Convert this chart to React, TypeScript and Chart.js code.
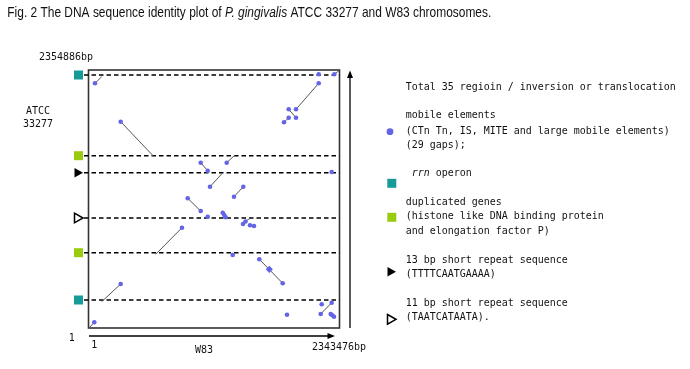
import React, { useEffect, useRef } from "react";
import { Chart, registerables } from "chart.js";
Chart.register(...registerables);

const X_MAX = 2343476;
const Y_MAX = 2354886;

// mobile element gaps [W83 position, ATCC 33277 position]
const mobileDots: number[][] = [
  [60700, 2233500], [300600, 1883000], [2149300, 2315600], [2294900, 2315600],
  [2149300, 2233500], [1869200, 1996200], [1937300, 1996200], [1869200, 1919500],
  [1937300, 1919500], [1825300, 1877500], [1047600, 1508800], [1112900, 1435800],
  [1290300, 1508800], [2270700, 1423900], [1134400, 1289700], [1445300, 1289700],
  [1358500, 1198400], [926200, 1183800], [1047600, 1067900], [1112900, 1015900],
  [1253000, 1052400], [1267000, 1031400], [1281000, 1010400],
  [1442500, 949300], [1465800, 972100], [1507900, 937400], [1545200, 931000],
  [873000, 915500], [1346300, 666300], [1594700, 627100], [1813200, 408000],
  [300600, 401600], [54200, 52000], [2177300, 216300], [2270700, 230900],
  [2168000, 127800], [2261300, 127800], [2276300, 115900], [2292100, 103100],
  [1853300, 121400],
];
const largeDots: number[][] = [[1688100, 535800]];

// identity segments [x1, y1, x2, y2]
const segments: number[][] = [
  [60700, 2233500, 123200, 2293700],
  [300600, 1883000, 605000, 1569900],
  [2294900, 2315600, 2338800, 2348500],
  [2149300, 2233500, 1937300, 1996200],
  [1869200, 1996200, 1937300, 1919500],
  [1825300, 1877500, 1869200, 1919500],
  [1047600, 1508800, 1112900, 1435800],
  [1290300, 1508800, 1367800, 1579100],
  [1134400, 1289700, 1249200, 1412000],
  [1445300, 1289700, 1358500, 1198400],
  [926200, 1183800, 1047600, 1067900],
  [873000, 915500, 627400, 672700],
  [1594700, 627100, 1813200, 408000],
  [300600, 401600, 123200, 240100],
  [54200, 52000, 7500, 2700],
  [2168000, 127800, 2270700, 230900],
  [1461200, 970300, 1507900, 1001300],
];

const rrnPositions = [2309200, 255600];
const dupPositions = [1572700, 687300];
const repeat13Positions = [1417500];
const repeat11Positions = [1004000];

const TEAL = "#179b98";
const GREEN = "#99cc11";
const BLUE = "#6464e6";
const DASH_START = -42000;
const MARK_OFFSET = 10; // px left of the plot frame

const legendLines: [string, number][] = [
  ["Total 35 regioin / inversion or translocation", 86.7],
  ["mobile elements", 115],
  ["(CTn Tn, IS, MITE and large mobile elements)", 130.7],
  ["(29 gaps);", 145],
  ["duplicated genes", 201.7],
  ["(histone like DNA binding protein", 216],
  ["and elongation factor P)", 230.7],
  ["13 bp short repeat sequence", 260],
  ["(TTTTCAATGAAAA)", 274],
  ["11 bp short repeat sequence", 302.7],
  ["(TAATCATAATA).", 316.7],
];

function mono(ctx: CanvasRenderingContext2D, text: string, x: number, y: number, italic = false) {
  ctx.save();
  ctx.font = (italic ? "italic " : "") + '11px "DejaVu Sans Mono"';
  const w = ctx.measureText("M").width;
  ctx.translate(x, y);
  ctx.scale(6 / w, 1);
  ctx.textBaseline = "middle";
  ctx.textAlign = "left";
  ctx.fillStyle = "#111";
  ctx.fillText(text, 0, 0);
  ctx.restore();
}

function triangle(ctx: CanvasRenderingContext2D, cx: number, cy: number, filled: boolean) {
  ctx.save();
  ctx.beginPath();
  ctx.moveTo(cx - 4, cy - 4.8);
  ctx.lineTo(cx + 4.5, cy);
  ctx.lineTo(cx - 4, cy + 4.8);
  ctx.closePath();
  if (filled) {
    ctx.fillStyle = "#000";
    ctx.fill();
  } else {
    ctx.fillStyle = "#fff";
    ctx.fill();
    ctx.lineWidth = 1.5;
    ctx.strokeStyle = "#000";
    ctx.stroke();
  }
  ctx.restore();
}

function square(ctx: CanvasRenderingContext2D, cx: number, cy: number, color: string) {
  ctx.save();
  ctx.fillStyle = color;
  ctx.fillRect(cx - 4.5, cy - 4.5, 9, 9);
  ctx.restore();
}

const decor = {
  id: "decor",
  beforeDatasetsDraw(chart: any) {
    const ctx: CanvasRenderingContext2D = chart.ctx;
    const a = chart.chartArea;
    ctx.save();
    ctx.strokeStyle = "#333";
    ctx.lineWidth = 1.6;
    ctx.strokeRect(a.left, a.top, a.right - a.left, a.bottom - a.top);
    ctx.restore();
  },
  afterDraw(chart: any) {
    const ctx: CanvasRenderingContext2D = chart.ctx;
    const a = chart.chartArea;
    const ys = chart.scales.y;
    const mx = a.left - MARK_OFFSET;

    // side markers on the ATCC axis
    rrnPositions.forEach((v) => square(ctx, mx, ys.getPixelForValue(v), TEAL));
    dupPositions.forEach((v) => square(ctx, mx, ys.getPixelForValue(v), GREEN));
    repeat13Positions.forEach((v) => triangle(ctx, mx, ys.getPixelForValue(v), true));
    repeat11Positions.forEach((v) => triangle(ctx, mx, ys.getPixelForValue(v), false));

    ctx.save();
    // title
    const parts: [string, boolean][] = [
      ["Fig. 2 The DNA sequence identity plot of ", false],
      ["P. gingivalis", true],
      [" ATCC 33277 and W83 chromosomes.", false],
    ];
    let total = 0;
    const widths: number[] = [];
    for (const [t, it] of parts) {
      ctx.font = (it ? "italic " : "") + '15px "Liberation Sans"';
      const w = ctx.measureText(t).width;
      widths.push(w);
      total += w;
    }
    const s = 484 / total;
    ctx.translate(7.3, 17);
    ctx.scale(s, 1);
    ctx.fillStyle = "#111";
    ctx.textBaseline = "alphabetic";
    let cx = 0;
    parts.forEach(([t, it], i) => {
      ctx.font = (it ? "italic " : "") + '15px "Liberation Sans"';
      ctx.fillText(t, cx, 0);
      cx += widths[i];
    });
    ctx.restore();

    // axis arrows
    ctx.save();
    ctx.strokeStyle = "#000";
    ctx.fillStyle = "#000";
    ctx.lineWidth = 1.3;
    ctx.beginPath();
    ctx.moveTo(a.left + 0.5, 336);
    ctx.lineTo(329, 336);
    ctx.stroke();
    ctx.beginPath();
    ctx.moveTo(335, 336);
    ctx.lineTo(327.5, 333);
    ctx.lineTo(327.5, 339);
    ctx.closePath();
    ctx.fill();
    ctx.beginPath();
    ctx.moveTo(350, a.bottom);
    ctx.lineTo(350, 76);
    ctx.stroke();
    ctx.beginPath();
    ctx.moveTo(350, 70.5);
    ctx.lineTo(347, 78);
    ctx.lineTo(353, 78);
    ctx.closePath();
    ctx.fill();
    ctx.restore();

    // axis texts
    mono(ctx, "2354886bp", 39, 56.7);
    mono(ctx, "ATCC", 26, 111);
    mono(ctx, "33277", 23, 124);
    mono(ctx, "1", 68.7, 337.7);
    mono(ctx, "1", 91.3, 345);
    mono(ctx, "W83", 195, 350);
    mono(ctx, "2343476bp", 312, 346.7);

    // legend
    for (const [t, y] of legendLines) mono(ctx, t, 405.7, y);
    mono(ctx, "rrn", 411.7, 173.3, true);
    mono(ctx, " operon", 429.7, 173.3);

    ctx.save();
    ctx.fillStyle = BLUE;
    ctx.beginPath();
    ctx.arc(390, 131.7, 3.4, 0, Math.PI * 2);
    ctx.fill();
    ctx.restore();
    square(ctx, 391.8, 183.3, TEAL);
    square(ctx, 391.8, 217.3, GREEN);
    triangle(ctx, 391.5, 271.7, true);
    triangle(ctx, 391.5, 319.3, false);
  },
};

export default function App() {
  const ref = useRef<HTMLCanvasElement | null>(null);
  useEffect(() => {
    if (!ref.current) return;
    const allMarks = [...rrnPositions, ...dupPositions, ...repeat13Positions, ...repeat11Positions];
    const datasets: any[] = [];
    datasets.push({
      label: "mobile",
      data: mobileDots.map(([x, y]) => ({ x, y })),
      pointRadius: 2.3,
      pointBackgroundColor: BLUE,
      pointBorderWidth: 0,
      showLine: false,
      order: 0,
      clip: false,
    });
    datasets.push({
      label: "mobile-large",
      data: largeDots.map(([x, y]) => ({ x, y })),
      pointRadius: 3.6,
      pointStyle: "rectRot",
      pointBackgroundColor: BLUE,
      pointBorderWidth: 0,
      showLine: false,
      order: 0,
      clip: false,
    });
    segments.forEach((sg, i) => {
      datasets.push({
        label: "seg" + i,
        data: [{ x: sg[0], y: sg[1] }, { x: sg[2], y: sg[3] }],
        showLine: true,
        borderColor: "#555",
        borderWidth: 1,
        pointRadius: 0,
        order: 2,
        clip: false,
      });
    });
    allMarks.forEach((y, i) => {
      datasets.push({
        label: "dash" + i,
        data: [{ x: DASH_START, y }, { x: X_MAX, y }],
        showLine: true,
        borderColor: "#000",
        borderWidth: 1.5,
        borderDash: [4.5, 3],
        pointRadius: 0,
        order: 3,
        clip: false,
      });
    });

    const chart = new Chart(ref.current, {
      type: "scatter",
      data: { datasets },
      options: {
        animation: false,
        responsive: false,
        maintainAspectRatio: false,
        devicePixelRatio: 1,
        events: [],
        layout: { padding: { left: 88.5, right: 350.5, top: 70, bottom: 41 } },
        plugins: { legend: { display: false }, tooltip: { enabled: false }, title: { display: false } },
        scales: {
          x: { type: "linear", min: 1, max: X_MAX, display: false },
          y: { type: "linear", min: 1, max: Y_MAX, display: false },
        },
      } as any,
      plugins: [decor as any],
    });
    return () => chart.destroy();
  }, []);
  return (
    <div style={{ position: "absolute", left: 0, top: 0, width: 690, height: 369, background: "#fff" }}>
      <canvas ref={ref} width={690} height={369} style={{ display: "block" }} />
    </div>
  );
}
